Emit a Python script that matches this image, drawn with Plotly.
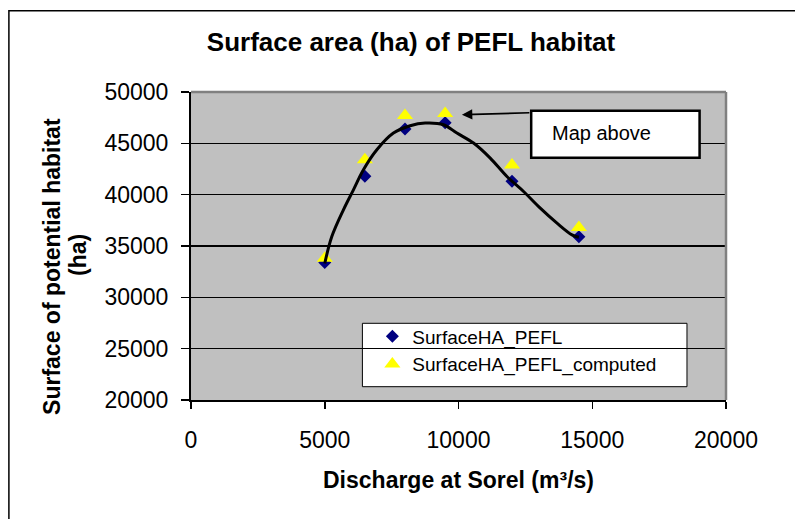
import plotly.graph_objects as go

# ---- data ----
discharge = [5000, 6500, 8000, 9500, 12000, 14500]
surface_pefl = [33400, 41800, 46400, 47000, 41300, 35900]
surface_computed = [33800, 43400, 47700, 47900, 42900, 36800]

curve_x = [5000, 5264, 5698, 6072, 6446, 6947, 7568, 8193, 8754, 9439,
           9940, 10561, 11186, 11811, 12432, 13057, 13682, 14243, 14500]
curve_y = [33300, 35920, 38524, 40474, 42424, 44374, 46002, 46714, 46977, 46812,
           46002, 45027, 43564, 41770, 40307, 38688, 37226, 36085, 35850]

x_ticks = [0, 5000, 10000, 15000, 20000]
y_ticks = [20000, 25000, 30000, 35000, 40000, 45000, 50000]

FONT = "Liberation Sans, Arial, sans-serif"

W, H = 795, 519

fig = go.Figure()

fig.add_trace(go.Scatter(
    x=discharge, y=surface_pefl, mode="markers", name="SurfaceHA_PEFL",
    marker=dict(symbol="diamond", size=10, color="#000080", line=dict(width=0)),
    legendrank=1,
))
fig.add_trace(go.Scatter(
    x=discharge, y=surface_computed, mode="markers", name="SurfaceHA_PEFL_computed",
    marker=dict(symbol="triangle-up", size=14, color="#FFFF00", line=dict(width=0)),
    legendrank=2,
))
fig.add_trace(go.Scatter(
    x=curve_x, y=curve_y, mode="lines", showlegend=False,
    line=dict(color="black", width=3, shape="spline", smoothing=1.0),
    hoverinfo="skip",
))

fig.update_layout(
    width=W, height=H,
    margin=dict(l=191, r=W - 725.7, t=92, b=H - 400, autoexpand=False),
    paper_bgcolor="white",
    plot_bgcolor="#C0C0C0",
    font=dict(family=FONT, color="black", size=23),
    showlegend=True,
    legend=dict(
        x=0.339, y=0.268, xanchor="left", yanchor="top",
        bgcolor="rgba(0,0,0,0)", borderwidth=0,
        font=dict(family=FONT, size=19, color="black"),
        itemwidth=30, tracegroupgap=0,
    ),
    title=dict(
        text="<b>Surface area (ha) of PEFL habitat</b>",
        x=411 / W, xref="container", xanchor="center",
        y=1 - 42 / H, yref="container", yanchor="middle",
        font=dict(family=FONT, size=26, color="black"),
    ),
)

fig.update_xaxes(
    range=[0, 20000], tickvals=x_ticks, ticktext=[str(v) for v in x_ticks],
    showgrid=False, zeroline=False,
    showline=True, linecolor="black", linewidth=2,
    ticks="outside", ticklen=7, tickwidth=1.5, tickcolor="black",
    ticklabelstandoff=11,
    tickfont=dict(family=FONT, size=23, color="black"),
)
fig.update_yaxes(
    range=[20000, 50000], tickvals=y_ticks, ticktext=[str(v) for v in y_ticks],
    showgrid=True, gridcolor="black", gridwidth=1.2, zeroline=False,
    showline=True, linecolor="black", linewidth=2,
    ticks="outside", ticklen=8, tickwidth=1.5, tickcolor="black",
    ticklabelstandoff=8,
    tickfont=dict(family=FONT, size=23, color="black"),
)

shapes = [
    # plot-area top and right borders (gray)
    dict(type="line", xref="paper", yref="paper", x0=0, x1=1, y0=1, y1=1,
         line=dict(color="#808080", width=2.5), layer="above"),
    dict(type="line", xref="paper", yref="paper", x0=1, x1=1, y0=0, y1=1,
         line=dict(color="#808080", width=2.5), layer="above"),
    # outer chart border
    dict(type="rect", xref="paper", yref="paper",
         x0=(9 - 191) / 534.7, x1=3, y0=-3, y1=(400 - 10.7) / 308,
         line=dict(color="black", width=1.5), fillcolor="rgba(0,0,0,0)", layer="above"),
    # legend box
    dict(type="rect", xref="paper", yref="paper",
         x0=(362.3 - 191) / 534.7, x1=(686.7 - 191) / 534.7,
         y0=(400 - 386.7) / 308, y1=(400 - 323.3) / 308,
         line=dict(color="black", width=1), fillcolor="white", layer="below"),
    # "Map above" box
    dict(type="rect", xref="paper", yref="paper",
         x0=(531 - 191) / 534.7, x1=(699.3 - 191) / 534.7,
         y0=(400 - 157.7) / 308, y1=(400 - 110.7) / 308,
         line=dict(color="black", width=2.5), fillcolor="white", layer="above"),
]
fig.update_layout(shapes=shapes)

annotations = [
    dict(text="<b>Surface of potential habitat</b>", textangle=-90,
         xref="paper", yref="paper", x=(52 - 191) / 534.7, y=(400 - 266) / 308,
         xanchor="center", yanchor="middle", showarrow=False,
         font=dict(family=FONT, size=23, color="black")),
    dict(text="<b>(ha)</b>", textangle=-90,
         xref="paper", yref="paper", x=(78 - 191) / 534.7, y=(400 - 255) / 308,
         xanchor="center", yanchor="middle", showarrow=False,
         font=dict(family=FONT, size=23, color="black")),
    dict(text="<b>Discharge at Sorel (m³/s)</b>",
         xref="paper", yref="paper", x=0.5, y=(400 - 480) / 308,
         xanchor="center", yanchor="middle", showarrow=False,
         font=dict(family=FONT, size=23, color="black")),
    dict(text="Map above", xref="paper", yref="paper",
         x=(601.7 - 191) / 534.7, y=(400 - 133.3) / 308,
         xanchor="center", yanchor="middle", showarrow=False,
         font=dict(family=FONT, size=20, color="black")),
    dict(text="", xref="x", yref="y", x=10127, y=47787,
         ax=69, ay=-2, axref="pixel", ayref="pixel",
         showarrow=True, arrowhead=2, arrowsize=1.3, arrowwidth=1.6,
         arrowcolor="black", standoff=0),
]
fig.update_layout(annotations=annotations)

fig.write_html(
    "out.html",
    config={"displayModeBar": False, "staticPlot": True},
    post_script="document.body.style.margin='0';document.body.style.overflow='hidden';",
)
